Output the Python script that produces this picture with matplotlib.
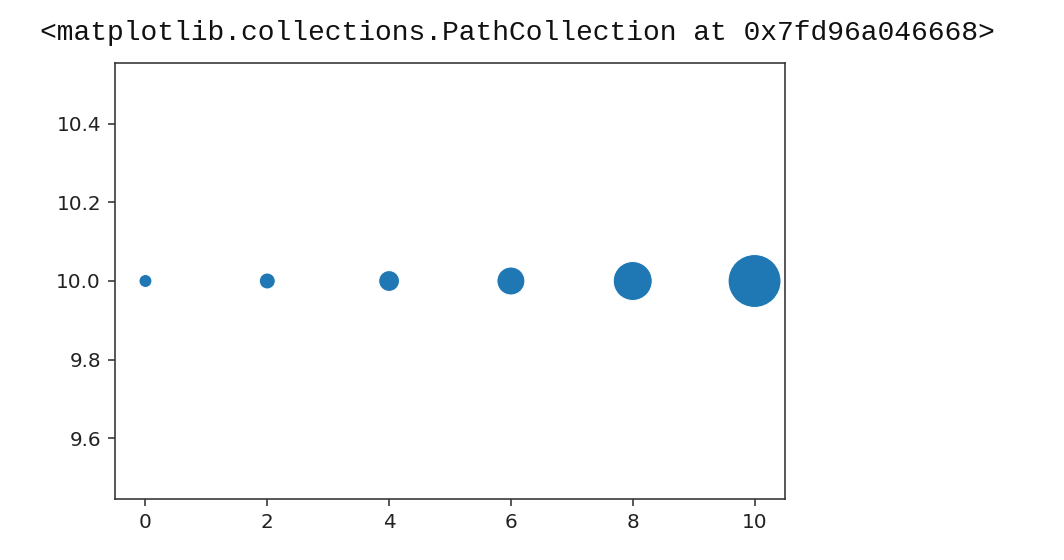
import matplotlib
matplotlib.use("Agg")
import matplotlib.pyplot as plt
import numpy as np

# marker positions and sizes (pt^2)
x = [0, 2, 4, 6, 8, 10]
y = [10, 10, 10, 10, 10, 10]
sizes = [42, 64, 108, 196, 380, 700]

fig = plt.figure(figsize=(1064 / 144, 560 / 144), dpi=144)
ax = fig.add_axes([115 / 1064, 61 / 560, 670 / 1064, 436 / 560])

ax.scatter(x, y, s=sizes, color="#1f77b4", edgecolors="white", linewidths=0.5)

ax.set_xlim(-0.5, 10.5)
ax.set_ylim(9.445, 10.555)
ax.set_xticks([0, 2, 4, 6, 8, 10])
ax.set_yticks([9.6, 9.8, 10.0, 10.2, 10.4])
ax.tick_params(colors="#333333", labelcolor="#222222", labelsize=10)
for sp in ax.spines.values():
    sp.set_color("#333333")

fig.text(40 / 1064, 1 - 33 / 560,
         "<matplotlib.collections.PathCollection at 0x7fd96a046668>",
         family="Liberation Mono", fontsize=14, va="center", ha="left",
         color="#111111")

fig.savefig("out.png", dpi=144)
